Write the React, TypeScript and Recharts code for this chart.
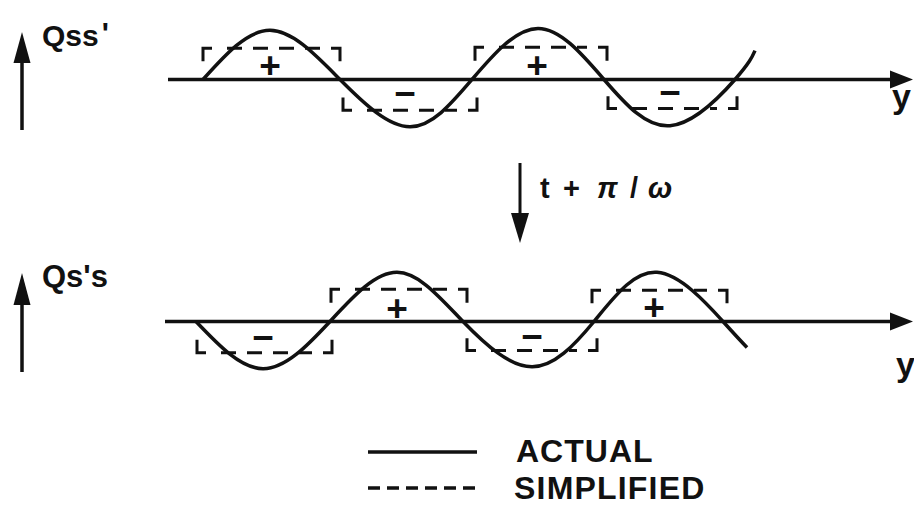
import React from 'react';
import { ComposedChart, Line, Scatter, XAxis, YAxis, ReferenceLine } from 'recharts';

// Wave positions along y (px-based units) and charge density (unit amplitude)
const TOP_WAVE = [
  { pos: 203, q: 0 },
  { pos: 270, q: 1.02 },
  { pos: 340, q: 0 },
  { pos: 410, q: -0.98 },
  { pos: 472, q: 0 },
  { pos: 538, q: 1.06 },
  { pos: 604, q: 0 },
  { pos: 670, q: -0.96 },
  { pos: 735, q: 0 },
  { pos: 755, q: 0.6 },
];

const BOTTOM_WAVE = [
  { pos: 196, q: 0 },
  { pos: 263, q: -0.98 },
  { pos: 330, q: 0 },
  { pos: 397, q: 1.02 },
  { pos: 463, q: 0 },
  { pos: 532, q: -0.94 },
  { pos: 594, q: 0 },
  { pos: 657, q: 1.02 },
  { pos: 723, q: 0 },
  { pos: 747, q: -0.54 },
];

// simplified (square) approximation of each half wave
const TOP_BOXES = [
  { from: 203, to: 340, level: 0.65 },
  { from: 343, to: 477, level: -0.64 },
  { from: 475, to: 607, level: 0.67 },
  { from: 608, to: 737, level: -0.6 },
];

const BOTTOM_BOXES = [
  { from: 197, to: 332, level: -0.65 },
  { from: 331, to: 467, level: 0.67 },
  { from: 467, to: 597, level: -0.6 },
  { from: 592, to: 727, level: 0.65 },
];

const TOP_SIGNS = [
  { pos: 270, q: 0.29, sign: '+' },
  { pos: 405, q: -0.29, sign: '−' },
  { pos: 537, q: 0.29, sign: '+' },
  { pos: 670, q: -0.27, sign: '−' },
];

const BOTTOM_SIGNS = [
  { pos: 263, q: -0.33, sign: '−' },
  { pos: 397, q: 0.27, sign: '+' },
  { pos: 532, q: -0.31, sign: '−' },
  { pos: 654, q: 0.29, sign: '+' },
];

const INK = '#111';
const FONT = "'Liberation Sans', Arial, Helvetica, sans-serif";
const W = 914;
const H = 159;
const CORNER_W = 9;
const CORNER_H = 0.42;

function boxParts(box: { from: number; to: number; level: number }) {
  const { from, to, level } = box;
  return {
    left: [
      { pos: from, q: level * (1 - CORNER_H) },
      { pos: from, q: level },
      { pos: from + CORNER_W, q: level },
    ],
    right: [
      { pos: to - CORNER_W, q: level },
      { pos: to, q: level },
      { pos: to, q: level * (1 - CORNER_H) },
    ],
    mid: [
      { pos: from + 24, q: level },
      { pos: to - 20, q: level },
    ],
  };
}

const SignShape = (props: any) => (
  <text
    x={props.cx}
    y={props.cy}
    textAnchor="middle"
    dominantBaseline="central"
    fontFamily={FONT}
    fontWeight="bold"
    fontSize={37}
    fill={INK}
  >
    {props.payload.sign}
  </text>
);

const ArrowHead = (props: any) => (
  <polygon
    points={`${props.cx},${props.cy} ${props.cx - 23},${props.cy - 9} ${props.cx - 23},${props.cy + 9}`}
    fill={INK}
  />
);

function Panel({ wave, boxes, signs, axisStart, top }: any) {
  return (
    <div style={{ position: 'absolute', left: 0, top }}>
      <ComposedChart width={W} height={H} margin={{ top: 0, right: 0, bottom: 0, left: 0 }}>
        <XAxis type="number" dataKey="pos" domain={[0, W]} allowDataOverflow hide />
        <YAxis type="number" domain={[-1.65, 1.65]} allowDataOverflow hide />
        <ReferenceLine
          segment={[
            { x: axisStart, y: 0 },
            { x: 900, y: 0 },
          ]}
          stroke={INK}
          strokeWidth={3.5}
        />
        <Scatter data={[{ pos: 913, q: 0 }]} dataKey="q" shape={ArrowHead} isAnimationActive={false} />
        {boxes.map((b: any, i: number) => {
          const parts = boxParts(b);
          return (
            <React.Fragment key={i}>
              <Line data={parts.left} dataKey="q" type="linear" stroke={INK} strokeWidth={3} dot={false} activeDot={false} isAnimationActive={false} />
              <Line data={parts.right} dataKey="q" type="linear" stroke={INK} strokeWidth={3} dot={false} activeDot={false} isAnimationActive={false} />
              <Line data={parts.mid} dataKey="q" type="linear" stroke={INK} strokeWidth={3} strokeDasharray="15 11" dot={false} activeDot={false} isAnimationActive={false} />
            </React.Fragment>
          );
        })}
        <Line data={wave} dataKey="q" type="natural" stroke={INK} strokeWidth={3.5} dot={false} activeDot={false} isAnimationActive={false} />
        <Scatter data={signs} dataKey="q" shape={SignShape} isAnimationActive={false} />
      </ComposedChart>
    </div>
  );
}

function UpArrow({ x, tip, base, end }: { x: number; tip: number; base: number; end: number }) {
  return (
    <g>
      <line x1={x} y1={base} x2={x} y2={end} stroke={INK} strokeWidth={3.5} />
      <polygon points={`${x},${tip} ${x - 8.5},${base} ${x + 8.5},${base}`} fill={INK} />
    </g>
  );
}

export default function App() {
  return (
    <div style={{ position: 'absolute', left: 0, top: 0, width: W, height: 519, background: '#fff', overflow: 'hidden' }}>
      <Panel wave={TOP_WAVE} boxes={TOP_BOXES} signs={TOP_SIGNS} axisStart={168} top={0} />
      <Panel wave={BOTTOM_WAVE} boxes={BOTTOM_BOXES} signs={BOTTOM_SIGNS} axisStart={165} top={241.5} />

      <svg width={W} height={519} style={{ position: 'absolute', left: 0, top: 0, pointerEvents: 'none' }}>
        <g fontFamily={FONT} fontWeight="bold" fill={INK}>
          {/* panel labels */}
          <UpArrow x={22} tip={32} base={63} end={130} />
          <text x={42} y={46} fontSize={30}>
            Qss<tspan dx={3} dy={-3}>'</tspan>
          </text>
          <UpArrow x={22} tip={273} base={305} end={372} />
          <text x={42} y={287} fontSize={31}>Qs's</text>

          <text x={892} y={108} fontSize={34}>y</text>
          <text x={896} y={376} fontSize={34}>y</text>

          {/* half-period shift */}
          <line x1={520} y1={163} x2={520} y2={215} stroke={INK} strokeWidth={3} />
          <polygon points="511,213 529,213 520,243" fill={INK} />
          <text y={198} fontSize={29}>
            <tspan x={540}>t</tspan>
            <tspan x={563}>+</tspan>
            <tspan x={597} fontStyle="italic">π</tspan>
            <tspan x={630}>/</tspan>
            <tspan x={648} fontStyle="italic">ω</tspan>
          </text>

          {/* legend */}
          <line x1={368} y1={452} x2={477} y2={452} stroke={INK} strokeWidth={3.5} />
          <text x={516} y={462} fontSize={32} letterSpacing={1}>ACTUAL</text>
          <line x1={368} y1={488} x2={477} y2={488} stroke={INK} strokeWidth={3.5} strokeDasharray="12 7" />
          <text x={514} y={499} fontSize={32} letterSpacing={1.2}>SIMPLIFIED</text>
        </g>
      </svg>
    </div>
  );
}
